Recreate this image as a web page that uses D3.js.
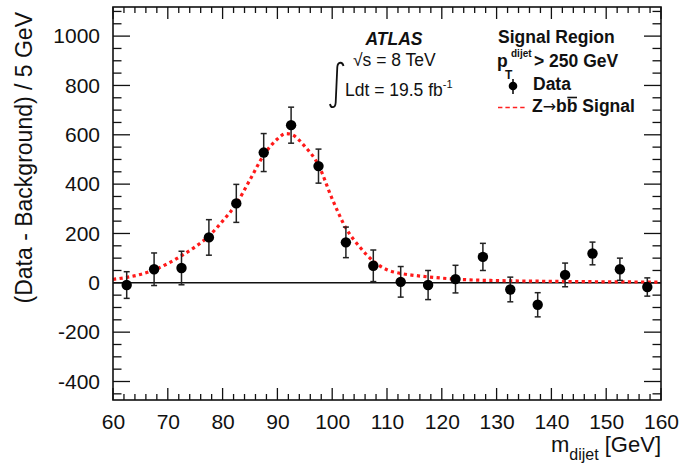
<!DOCTYPE html>
<html>
<head>
<meta charset="utf-8">
<script src="https://cdn.jsdelivr.net/npm/d3@7"></script>
<style>
  html, body { margin: 0; padding: 0; background: #fff; }
  svg { display: block; font-family: "Liberation Sans", Arial, Helvetica, sans-serif; }
</style>
</head>
<body>
<svg id="chart" width="681" height="471"></svg>
<script>
// Bin centres of the dijet mass histogram (5 GeV bins)
const binCenters = [62.5, 67.5, 72.5, 77.5, 82.5, 87.5, 92.5, 97.5, 102.5, 107.5,
                    112.5, 117.5, 122.5, 127.5, 132.5, 137.5, 142.5, 147.5, 152.5, 157.5];
// Background-subtracted data per bin
const dataValues = [-9, 55, 60, 184, 322, 528, 639, 473, 164, 69,
                    4, -9, 15, 105, -27, -89, 32, 119, 55, -17];
// Statistical uncertainty per bin
const dataErrors = [54, 66, 68, 72, 77, 77, 73, 69, 62, 64,
                    62, 59, 56, 55, 50, 49, 48, 46, 45, 37];
// Z -> bb signal shape, sampled along the mass axis
const signalMass = [60, 62.5, 65, 67.5, 70, 72.5, 75, 77.5, 80, 82.5, 85, 87.5, 90, 91.5,
                    92.5, 95, 97.5, 100, 102.5, 105, 107.5, 110, 112.5, 115, 117.5, 120,
                    125, 130, 140, 150, 160];
const signalValues = [14, 22, 34, 52, 78, 110, 146, 190, 250, 320, 418, 517, 583, 605,
                      602, 553, 477, 340, 222, 146, 88, 53, 38, 30, 24, 19,
                      12, 9, 6, 4, 3];
// Axis ticks
const xMajorTicks = [60, 70, 80, 90, 100, 110, 120, 130, 140, 150, 160];
const yMajorTicks = [-400, -200, 0, 200, 400, 600, 800, 1000];

const svg = d3.select("#chart");
const plotLeft = 113, plotRight = 661, plotTop = 7, plotBottom = 400;

const x = d3.scaleLinear().domain([60, 160]).range([plotLeft, plotRight]);
const y = d3.scaleLinear().domain([-475, 1118]).range([plotBottom, plotTop]);

const ink = "#111";
const plainNumber = d => String(d);   // ASCII hyphen for negatives

// Tick marks on all four sides
const xMinor = d3.range(60, 160.001, 2).filter(v => xMajorTicks.indexOf(Math.round(v)) < 0);
const yMinor = d3.range(-450, 1110, 50).filter(v => yMajorTicks.indexOf(v) < 0);

const ticks = svg.append("g").attr("stroke", ink).attr("stroke-width", 1.3);
function hTicks(vals, len) {
  vals.forEach(v => {
    ticks.append("line").attr("x1", x(v)).attr("x2", x(v)).attr("y1", plotBottom).attr("y2", plotBottom - len);
    ticks.append("line").attr("x1", x(v)).attr("x2", x(v)).attr("y1", plotTop).attr("y2", plotTop + len);
  });
}
function vTicks(vals, len) {
  vals.forEach(v => {
    ticks.append("line").attr("y1", y(v)).attr("y2", y(v)).attr("x1", plotLeft).attr("x2", plotLeft + len);
    ticks.append("line").attr("y1", y(v)).attr("y2", y(v)).attr("x1", plotRight).attr("x2", plotRight - len);
  });
}
hTicks(xMajorTicks, 12);
hTicks(xMinor, 6);
vTicks(yMajorTicks, 17);
vTicks(yMinor, 8.5);

// Tick labels through d3 axes (tick lines drawn separately above)
const xAxis = svg.append("g")
  .attr("transform", `translate(0,${plotBottom})`)
  .call(d3.axisBottom(x).tickValues(xMajorTicks).tickSize(0).tickPadding(14).tickFormat(plainNumber));
xAxis.select(".domain").remove();
xAxis.selectAll("text").attr("font-size", 21).attr("fill", ink)
  .attr("font-family", "'Liberation Sans', Arial, sans-serif");

const yAxis = svg.append("g")
  .attr("transform", `translate(${plotLeft},0)`)
  .call(d3.axisLeft(y).tickValues(yMajorTicks).tickSize(0).tickPadding(13).tickFormat(plainNumber));
yAxis.select(".domain").remove();
yAxis.selectAll("text").attr("font-size", 21).attr("fill", ink)
  .attr("font-family", "'Liberation Sans', Arial, sans-serif");

// Zero line
svg.append("line")
  .attr("x1", plotLeft).attr("x2", plotRight).attr("y1", y(0)).attr("y2", y(0))
  .attr("stroke", ink).attr("stroke-width", 1.5);

// Signal curve
const line = d3.line().x((d, i) => x(signalMass[i])).y(d => y(d)).curve(d3.curveMonotoneX);
svg.append("path")
  .attr("d", line(signalValues))
  .attr("fill", "none")
  .attr("stroke", "#ff1a1a")
  .attr("stroke-width", 3.2)
  .attr("stroke-dasharray", "3.2,3.4");

// Data points with error bars
const pts = svg.append("g");
binCenters.forEach((m, i) => {
  const cx = x(m), v = dataValues[i], e = dataErrors[i];
  const yHi = Math.min(y(v - e), plotBottom);
  pts.append("line").attr("x1", cx).attr("x2", cx).attr("y1", y(v + e)).attr("y2", yHi)
    .attr("stroke", "#222").attr("stroke-width", 1.5);
  [y(v + e), yHi].forEach(yy => pts.append("line")
    .attr("x1", cx - 3).attr("x2", cx + 3).attr("y1", yy).attr("y2", yy)
    .attr("stroke", "#222").attr("stroke-width", 1.5));
  pts.append("circle").attr("cx", cx).attr("cy", y(v)).attr("r", 5.2).attr("fill", "#000");
});

// Frame
svg.append("rect")
  .attr("x", plotLeft).attr("y", plotTop).attr("width", plotRight - plotLeft).attr("height", plotBottom - plotTop)
  .attr("fill", "none").attr("stroke", ink).attr("stroke-width", 1.6);

// Axis titles
svg.append("text")
  .attr("transform", `translate(32,12) rotate(-90)`)
  .attr("text-anchor", "end")
  .attr("font-size", 23).attr("fill", ink)
  .text("(Data - Background) / 5 GeV");

const xt = svg.append("text")
  .attr("x", plotRight).attr("y", 452).attr("text-anchor", "end")
  .attr("font-size", 22).attr("fill", ink);
xt.append("tspan").text("m");
xt.append("tspan").attr("font-size", 16).attr("dy", 8).text("dijet");
xt.append("tspan").attr("dy", -8).text(" [GeV]");

// ATLAS label block
svg.append("text").attr("x", 394).attr("y", 44.5).attr("text-anchor", "middle")
  .attr("font-size", 17.5).attr("font-weight", "bold").attr("font-style", "italic")
  .attr("fill", ink).text("ATLAS");
svg.append("text").attr("x", 353).attr("y", 66)
  .attr("font-size", 17.5).attr("fill", ink).text("\u221As = 8 TeV");
// integral sign
svg.append("path")
  .attr("d", "M343.5,66 C342.5,61.5 337.8,61.5 337.3,67 L335.7,102.5 C335.3,108.5 330.8,108.5 330,104")
  .attr("fill", "none").attr("stroke", ink).attr("stroke-width", 1.8);
const lum = svg.append("text").attr("x", 345).attr("y", 95.5)
  .attr("font-size", 17.5).attr("fill", ink);
lum.append("tspan").text("Ldt = 19.5 fb");
lum.append("tspan").attr("font-size", 11).attr("dy", -8).text("-1");

// Legend
const lg = svg.append("g").attr("font-weight", "bold").attr("fill", ink);
lg.append("text").attr("x", 498).attr("y", 43).attr("font-size", 17.5).text("Signal Region");
lg.append("text").attr("x", 497).attr("y", 67).attr("font-size", 17.5).text("p");
lg.append("text").attr("x", 511).attr("y", 57).attr("font-size", 10).text("dijet");
lg.append("text").attr("x", 505).attr("y", 78.5).attr("font-size", 12).text("T");
lg.append("text").attr("x", 534).attr("y", 67).attr("font-size", 17.5).text("> 250 GeV");

lg.append("line").attr("x1", 513).attr("x2", 513).attr("y1", 79).attr("y2", 94)
  .attr("stroke", "#000").attr("stroke-width", 1.5);
lg.append("circle").attr("cx", 513).attr("cy", 86).attr("r", 4.3).attr("fill", "#000");
lg.append("text").attr("x", 533).attr("y", 90).attr("font-size", 17.5).text("Data");

lg.append("line").attr("x1", 498).attr("x2", 527).attr("y1", 107.5).attr("y2", 107.5)
  .attr("stroke", "#ff2020").attr("stroke-width", 1.3).attr("stroke-dasharray", "4.4,3");
const zl = lg.append("text").attr("x", 532).attr("y", 112).attr("font-size", 17.5);
zl.append("tspan").text("Z");
zl.append("tspan").attr("font-weight", "normal").attr("font-size", 16)
  .attr("font-family", "'DejaVu Sans', sans-serif").text("\u2192");
zl.append("tspan").text("bb Signal");
// bar over the second b (antiquark)
const zNode = zl.node();
const s = zNode.getStartPositionOfChar(3), e = zNode.getEndPositionOfChar(3);
lg.append("line").attr("x1", s.x + 0.5).attr("x2", e.x - 0.5).attr("y1", 97.5).attr("y2", 97.5)
  .attr("stroke", ink).attr("stroke-width", 1.6);
</script>
</body>
</html>
